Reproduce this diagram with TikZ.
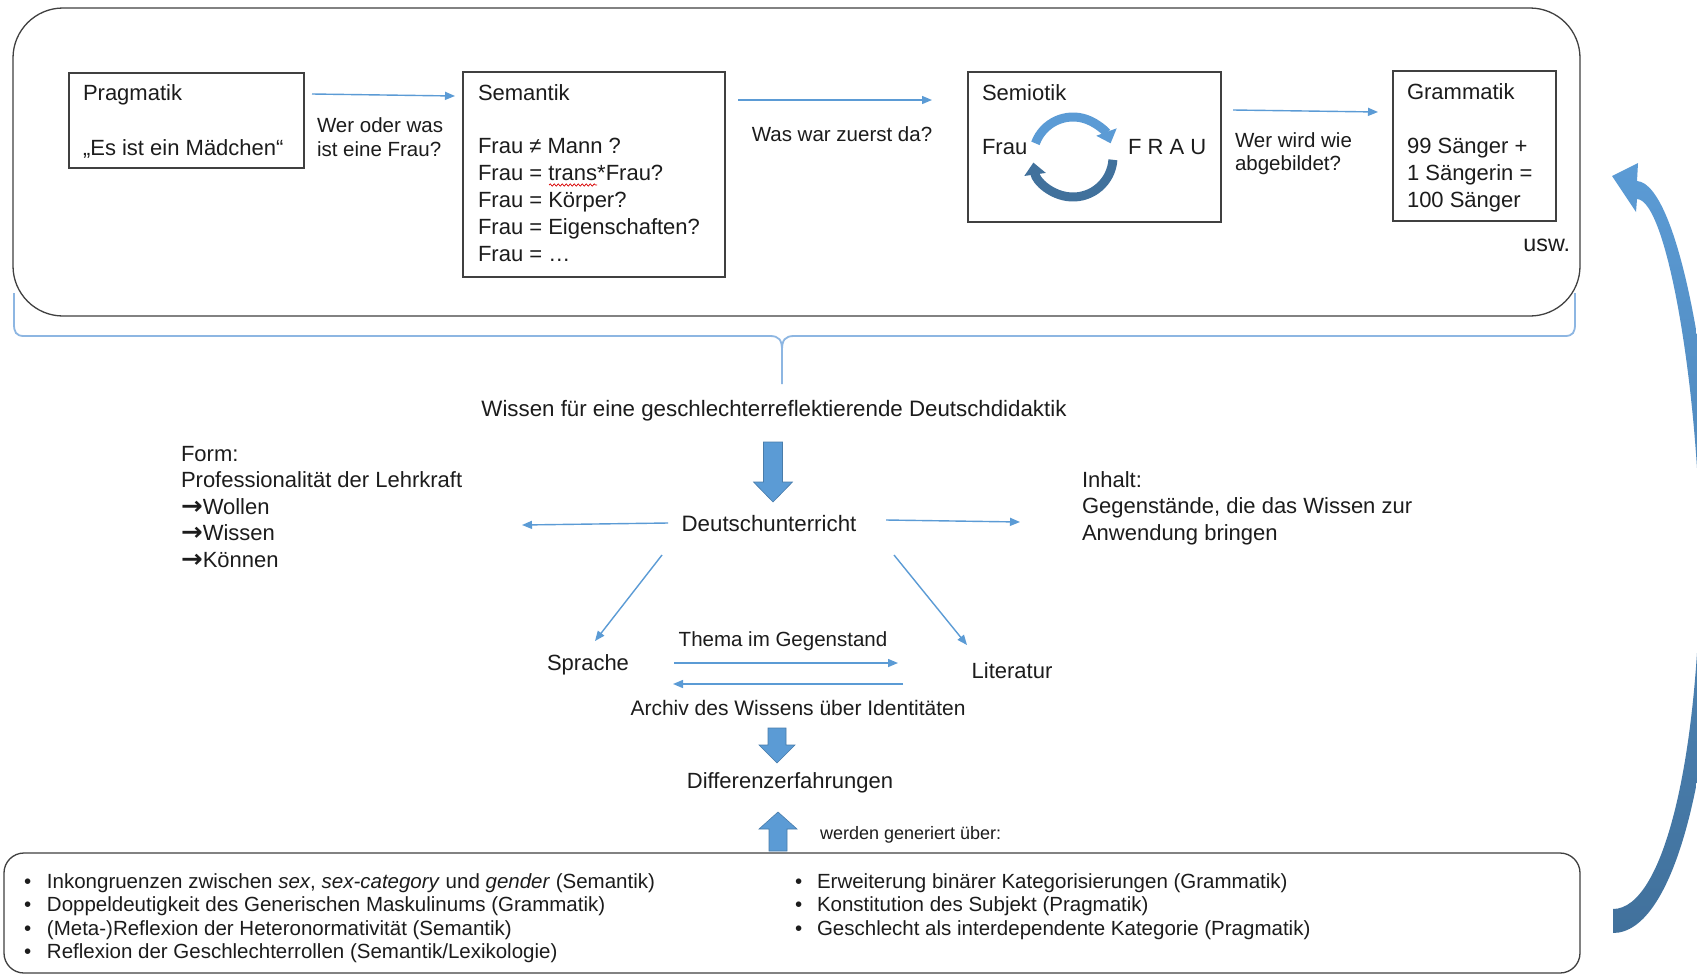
\documentclass[tikz,border=0pt]{standalone}
\usepackage{fontspec}
\usepackage{graphicx}
\setmainfont{Liberation Sans}
\newfontfamily\djv{DejaVu Sans}
\usetikzlibrary{arrows.meta,decorations.pathmorphing}
\definecolor{ablue}{HTML}{5B9BD5}
\definecolor{dblue}{HTML}{41719C}
\definecolor{lblue}{HTML}{8DB6E2}
\definecolor{frame}{HTML}{404040}
\definecolor{txt}{HTML}{1C1C1C}
\newcommand{\farr}{\scalebox{1.18}[1.12]{\djv\bfseries →}}
\begin{document}
\begin{tikzpicture}[x=1pt,y=-1pt,
  every node/.style={inner sep=0pt, outer sep=0pt, text=txt},
  f22/.style={font=\fontsize{22}{27}\selectfont},
  f22w/.style={font=\fontsize{22.3}{27}\selectfont},
  f22b/.style={font=\fontsize{22}{26.6}\selectfont},
  f23/.style={font=\fontsize{23.3}{27}\selectfont},
  f21/.style={font=\fontsize{21}{24}\selectfont},
  f20/.style={font=\fontsize{20.5}{24}\selectfont},
  f20b/.style={font=\fontsize{20.5}{23}\selectfont},
  f18/.style={font=\fontsize{18}{21}\selectfont},
  fbul/.style={font=\fontsize{20.5}{23.5}\selectfont},
  boxsty/.style={draw=frame, line width=1.3pt},
  arr/.style={draw=ablue, line width=1.4pt, -{Triangle[length=10pt,width=8pt]}},
  blockarr/.style={fill=ablue, draw=ablue!80!black, line width=0.6pt},
  semarr/.style={line width=9pt, -{Triangle[length=12pt,width=21pt]}},
  bracesty/.style={draw=lblue, line width=1.8pt},
]
\useasboundingbox (0,0) rectangle (1697,975);
\fill[white] (0,0) rectangle (1697,975);

% ---------- top frame ----------
\node[boxsty, rounded corners=50pt, minimum width=1567, minimum height=308, anchor=north west] (topframe) at (13,8) {};

% Pragmatik
\node[boxsty, minimum width=235, minimum height=95, anchor=north west] (prag) at (69,73) {};
\node[f22, anchor=base west] (pragT) at (83,100) {Pragmatik};
\node[f22, anchor=base west] (pragQ) at (83,155) {„Es ist ein Mädchen“};

\coordinate (a1s) at (312,94); \coordinate (a1e) at (455,96);
\draw[arr] (a1s) -- (a1e);
\node[f20, anchor=base west] (lab1) at (317,132) {\begin{tabular}[t]{@{}l@{}}Wer oder was\\ist eine Frau?\end{tabular}};

% Semantik
\node[boxsty, minimum width=262, minimum height=205, anchor=north west] (sem) at (463,72) {};
\node[f22, anchor=base west] (semT) at (478,100) {Semantik};
\node[f22, anchor=base west] (semL) at (478,153) {\begin{tabular}[t]{@{}l@{}}Frau ≠ Mann ?\\Frau = trans*Frau?\\Frau = Körper?\\Frau = Eigenschaften?\\Frau = …\end{tabular}};
\draw[red!85!black, line width=0.7pt, decorate, decoration={snake, amplitude=1.1pt, segment length=4pt}] (549,185) -- (597,185);

\coordinate (a2s) at (738,100); \coordinate (a2e) at (932,100);
\draw[arr] (a2s) -- (a2e);
\node[f20, anchor=base] (lab2) at (842,141) {Was war zuerst da?};

% Semiotik
\node[boxsty, minimum width=253, minimum height=150, anchor=north west] (semio) at (968,72) {};
\node[f22, anchor=base west] (semioT) at (982,100) {Semiotik};
\node[f22, anchor=base west] (frau) at (982,154) {Frau};
\node[f22, anchor=base west] (FRAU) at (1128,154) {F R A U};
\coordinate (cc) at (1073,157);
\draw[semarr, ablue] ([shift={(-160:40)}]cc) arc[start angle=-160, end angle=-20, radius=40];
\draw[semarr, dblue] ([shift={(4:40)}]cc) arc[start angle=4, end angle=172, radius=40];

\coordinate (a3s) at (1233,110); \coordinate (a3e) at (1378,112);
\draw[arr] (a3s) -- (a3e);
\node[f20b, anchor=base west] (lab3) at (1235,147) {\begin{tabular}[t]{@{}l@{}}Wer wird wie\\abgebildet?\end{tabular}};

% Grammatik
\node[boxsty, minimum width=163, minimum height=150, anchor=north west] (gram) at (1393,71) {};
\node[f22, anchor=base west] (gramT) at (1407,99) {Grammatik};
\node[f22, anchor=base west] (gramL) at (1407,153) {\begin{tabular}[t]{@{}l@{}}99 Sänger +\\1 Sängerin =\\100 Sänger\end{tabular}};
\node[f23, anchor=base east] (usw) at (1570,251) {usw.};

% brace
\draw[bracesty] (14,293) -- (14,324) .. controls (14,332) and (16,336) .. (24,336)
  -- (770,336) .. controls (779,336) and (782,340) .. (782,350) -- (782,384);
\draw[bracesty] (1575,293) -- (1575,324) .. controls (1575,332) and (1573,336) .. (1565,336)
  -- (794,336) .. controls (785,336) and (782,340) .. (782,350);

% ---------- middle ----------
\node[f22w, anchor=base] (wissen) at (774,416) {Wissen für eine geschlechterreflektierende Deutschdidaktik};
\fill[blockarr] (763.5,442) -- (782.5,442) -- (782.5,482) -- (792.5,482) -- (773,502) -- (753.5,482) -- (763.5,482) -- cycle;

\node[f22b, anchor=base west] (form) at (181,461) {\begin{tabular}[t]{@{}l@{}}Form:\\Professionalität der Lehrkraft\\\farr Wollen\\\farr Wissen\\\farr Können\end{tabular}};
\node[f22b, anchor=base west] (inhalt) at (1082,487) {\begin{tabular}[t]{@{}l@{}}Inhalt:\\Gegenstände, die das Wissen zur\\Anwendung bringen\end{tabular}};

\node[f22w, anchor=base] (du) at (769,531) {Deutschunterricht};
\coordinate (l1s) at (668,523); \coordinate (l1e) at (522,525);
\coordinate (r1s) at (886,520); \coordinate (r1e) at (1020,522);
\coordinate (dls) at (662,555); \coordinate (dle) at (595,641);
\coordinate (drs) at (894,555); \coordinate (dre) at (967,645);
\draw[arr] (l1s) -- (l1e);
\draw[arr] (r1s) -- (r1e);
\draw[arr] (dls) -- (dle);
\draw[arr] (drs) -- (dre);

\node[f22, anchor=base] (sprache) at (588,670) {Sprache};
\node[f22, anchor=base] (lit) at (1012,678) {Literatur};
\node[f20, anchor=base] (thema) at (783,646) {Thema im Gegenstand};
\coordinate (t1s) at (674,663); \coordinate (t1e) at (898,663);
\coordinate (t2s) at (903,684); \coordinate (t2e) at (673,684);
\draw[arr] (t1s) -- (t1e);
\draw[arr] (t2s) -- (t2e);
\node[f21, anchor=base] (archiv) at (798,715) {Archiv des Wissens über Identitäten};
\fill[blockarr] (768,728) -- (786,728) -- (786,745) -- (795,745) -- (777,763) -- (759,745) -- (768,745) -- cycle;
\node[f22, anchor=base] (diff) at (790,788) {Differenzerfahrungen};
\fill[blockarr] (769,851) -- (787,851) -- (787,829) -- (797,829) -- (778,812) -- (759,829) -- (769,829) -- cycle;
\node[f18, anchor=base west] (gen) at (820,839) {werden generiert über:};

% ---------- bottom frame ----------
\node[boxsty, rounded corners=20pt, minimum width=1576, minimum height=120, anchor=north west] (botframe) at (4,853) {};
\node[fbul, anchor=base west] (listL) at (24,888) {\begin{tabular}[t]{@{}p{23pt}@{}l@{}}
•& Inkongruenzen zwischen \textit{sex}, \textit{sex-category} und \textit{gender} (Semantik)\\
•& Doppeldeutigkeit des Generischen Maskulinums (Grammatik)\\
•& (Meta-)Reflexion der Heteronormativität (Semantik)\\
•& Reflexion der Geschlechterrollen (Semantik/Lexikologie)
\end{tabular}};
\node[fbul, anchor=base west] (listR) at (795,888) {\begin{tabular}[t]{@{}p{22pt}@{}l@{}}
•& Erweiterung binärer Kategorisierungen (Grammatik)\\
•& Konstitution des Subjekt (Pragmatik)\\
•& Geschlecht als interdependente Kategorie (Pragmatik)
\end{tabular}};

% ---------- big curved arrow ----------
\shade[top color=ablue, bottom color=dblue]
  (1613,933) .. controls (1676,933) and (1716,760) .. (1716,557)
  .. controls (1716,400) and (1680,184) .. (1637,181)
  -- (1638,163) -- (1612,176) -- (1636,212) -- (1637,199)
  .. controls (1668,200) and (1700,400) .. (1700,557)
  .. controls (1700,750) and (1665,909) .. (1613,909) -- cycle;
\end{tikzpicture}
\end{document}
